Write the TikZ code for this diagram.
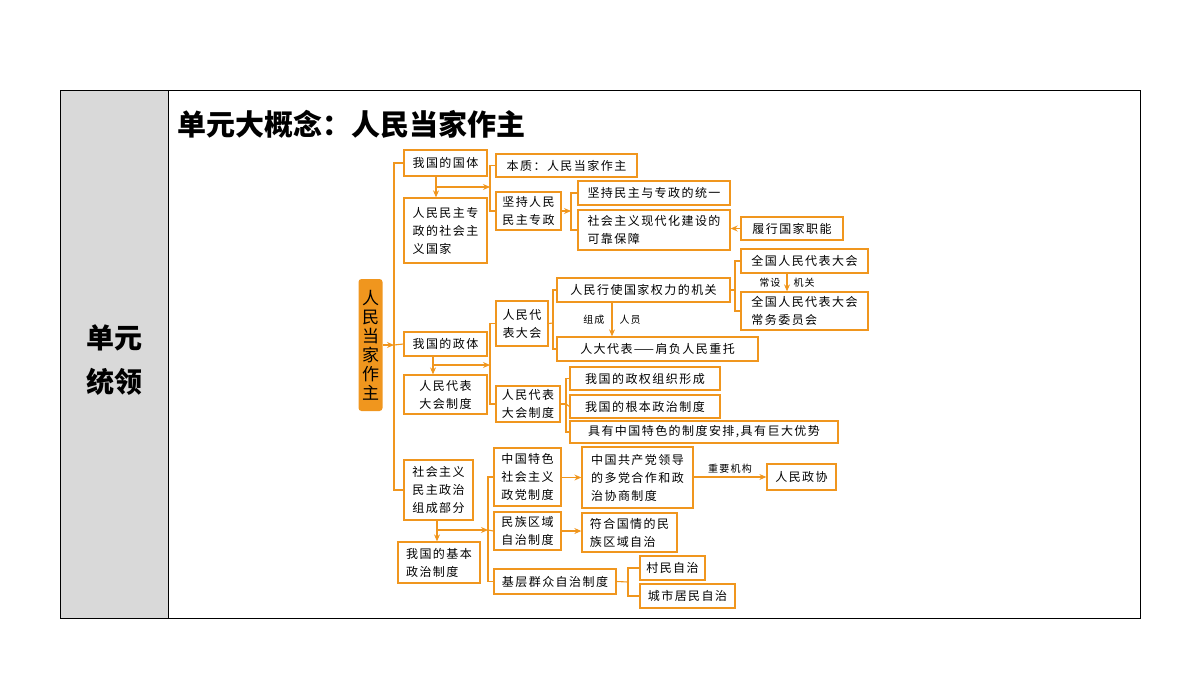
\documentclass[tikz,border=0pt]{standalone}
\usepackage{fontspec}
\newfontfamily\cjk[LetterSpace=12]{Noto Sans CJK SC}
\newfontfamily\cjkt{Noto Sans CJK SC}
\usetikzlibrary{arrows.meta}
\definecolor{orng}{RGB}{240,150,30}
\tikzset{
  box/.style={draw=orng, line width=1.3pt, fill=white, inner sep=3pt, align=left,
    font=\cjk\fontsize{12}{18}\selectfont},
  ln/.style={draw=orng, line width=1.1pt},
  arr/.style={ln, -{Stealth[length=7pt,width=6pt]}},
  lbl/.style={font=\cjk\fontsize{10}{12}\selectfont, inner sep=1pt}
}
% box from its corners: name, x1, y1, x2, y2, text
\newcommand\bx[6]{%
  \pgfmathsetmacro\bw{#4-#2}\pgfmathsetmacro\bh{#5-#3}%
  \node[box, minimum width=\bw pt, minimum height=\bh pt] (#1) at ({(#2+#4)/2},{(#3+#5)/2}) {#6};}
\begin{document}
\begin{tikzpicture}[x=1pt,y=-1pt]
    \useasboundingbox (0,0) rectangle (1200,675);
    % frame
    \fill[gray!30] (60,90) rectangle (168,618);
    \draw[line width=1pt] (60,90) rectangle (1140,618);
    \draw[line width=1pt] (168,90) -- (168,618);
    \node[font=\cjkt\bfseries\fontsize{28}{44}\selectfont, align=center] (unit) at (114,360) {单元\\统领};
    \node[font=\cjkt\bfseries\fontsize{29}{32}\selectfont, anchor=west] (title) at (174,124) {单元大概念：人民当家作主};
    % root
    \node[fill=orng, rounded corners=3pt, minimum width=24pt, minimum height=132pt, inner sep=0pt,
          font=\cjkt\fontsize{17}{19}\selectfont, align=center] (root) at (370.5,345)
          {人\\民\\当\\家\\作\\主};
    % first column
    \bx{a1}{404}{150}{487}{176}{我国的国体}
    \bx{a2}{404}{198}{487}{263}{人民民主专\\政的社会主\\义国家}
    \bx{p1}{404}{332}{487}{356}{我国的政体}
    \bx{p2}{404}{375}{487}{414}{人民代表\\大会制度}
    \bx{s1}{404}{460}{473}{520}{社会主义\\民主政治\\组成部分}
    \bx{s2}{398}{542}{480}{583}{我国的基本\\政治制度}
    % state system
    \bx{b1}{496}{154}{637}{177}{本质：人民当家作主}
    \bx{b2}{496}{192}{561}{230}{坚持人民\\民主专政}
    \bx{c1}{578}{181}{730}{205}{坚持民主与专政的统一}
    \bx{c2}{578}{210}{730}{250}{社会主义现代化建设的\\可靠保障}
    \bx{c3}{741}{217}{843}{240}{履行国家职能}
    % form of government
    \bx{q1}{496}{301}{548}{346}{人民代\\表大会}
    \bx{q2}{496}{386}{560}{422}{人民代表\\大会制度}
    \bx{r1}{557}{278}{730}{302}{人民行使国家权力的机关}
    \bx{r2}{557}{337}{758}{361}{人大代表——肩负人民重托}
    \bx{t1}{741}{249}{868}{273}{全国人民代表大会}
    \bx{t2}{741}{292}{868}{330}{全国人民代表大会\\常务委员会}
    \bx{u1}{570}{367}{720}{390}{我国的政权组织形成}
    \bx{u2}{570}{395}{720}{418}{我国的根本政治制度}
    \bx{u3}{570}{421}{838}{443}{具有中国特色的制度安排,具有巨大优势}
    % basic political systems
    \bx{v1}{494}{448}{561}{506}{中国特色\\社会主义\\政党制度}
    \bx{v2}{494}{512}{561}{550}{民族区域\\自治制度}
    \bx{v3}{494}{569}{616}{594}{基层群众自治制度}
    \bx{w1}{582}{447}{693}{508}{中国共产党领导\\的多党合作和政\\治协商制度}
    \bx{w2}{582}{513}{677}{552}{符合国情的民\\族区域自治}
    \bx{x1}{767}{464}{836}{490}{人民政协}
    \bx{y1}{640}{556}{705}{580}{村民自治}
    \bx{y2}{640}{584}{735}{608}{城市居民自治}
    % trunk
    \coordinate (trunk) at (394,345);
    \draw[arr] (root.east) -- (trunk);
    \draw[ln] (a1.west) -| (trunk) |- (s1.west);
    \draw[ln] (trunk) -- (p1.west);
    % state system links
    \coordinate (ka) at (436,187);
    \coordinate (kb) at (490,187);
    \draw[arr] (ka |- a1.south) -- (ka |- a2.north);
    \draw[arr] (ka) -- (kb);
    \draw[ln] (b1.west) -| (kb) |- (b2.west);
    \coordinate (kc) at (571,211);
    \draw[arr] (b2.east) -- (kc);
    \draw[ln] (c1.west) -| (kc) |- (c2.west);
    \draw[arr] (c3.west) -- (c3.west -| c2.east);
    % form of government links
    \coordinate (pa) at (433,365);
    \coordinate (pb) at (490,365);
    \draw[arr] (pa |- p1.south) -- (pa |- p2.north);
    \draw[arr] (pa) -- (pb);
    \draw[ln] (q1.west) -| (pb) |- (q2.west);
    \coordinate (qa) at (553,323);
    \draw[ln] (q1.east) -- (qa);
    \draw[ln] (r1.west) -| (qa) |- (r2.west);
    \coordinate (ra) at (735,290);
    \draw[ln] (r1.east) -- (ra);
    \draw[ln] (t1.west) -| (ra) |- (t2.west);
    \coordinate (rd) at (612,0);
    \draw[arr] (rd |- r1.south) -- (rd |- r2.north)
      node[lbl, pos=0.5, left=6pt] (zc) {组成} node[lbl, pos=0.5, right=6pt] (ry) {人员};
    \coordinate (td) at (787,0);
    \draw[arr] (td |- t1.south) -- (td |- t2.north)
      node[lbl, pos=0.5, left=5pt] (cs) {常设} node[lbl, pos=0.5, right=5pt] (jg) {机关};
    \coordinate (qb) at (566,404);
    \draw[ln] (q2.east) -- (qb);
    \draw[ln] (u1.west) -| (qb) |- (u3.west);
    \draw[ln] (qb) -- (u2.west);
    % basic political system links
    \coordinate (sa) at (437,530);
    \coordinate (sb) at (488,530);
    \draw[arr] (sa |- s1.south) -- (sa |- s2.north);
    \draw[arr] (sa) -- (sb);
    \draw[ln] (v1.west) -| (sb) |- (v3.west);
    \draw[ln] (sb) -- (v2.west);
    \draw[arr] (v1.east |- w1.west) -- (w1.west);
    \draw[arr] (v2.east) -- (v2.east -| w2.west);
    \draw[arr] (w1.east |- x1.west) -- (x1.west)
      node[lbl, midway, above=2pt] (zy) {重要机构};
    \coordinate (va) at (628,582);
    \draw[ln] (v3.east) -- (va);
    \draw[ln] (y1.west) -| (va) |- (y2.west);
\end{tikzpicture}
\end{document}
